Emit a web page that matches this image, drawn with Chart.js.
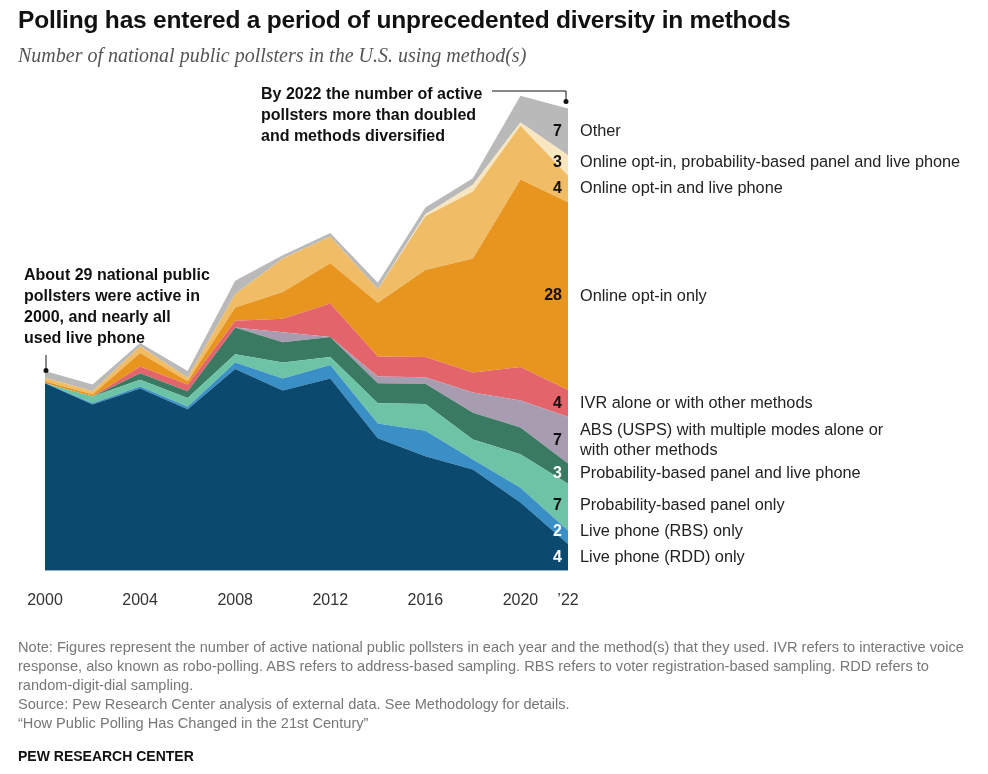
<!DOCTYPE html>
<html><head><meta charset="utf-8">
<script src="https://cdn.jsdelivr.net/npm/chart.js@4"></script>
<style>
body{margin:0;width:988px;height:774px;background:#fff;font-family:"Liberation Sans",Arial,sans-serif;position:relative;overflow:hidden}
#wrap{position:absolute;left:0;top:0;width:988px;height:774px}
.t{position:absolute;color:#111}
#title{left:18px;top:6px;font-size:24.5px;font-weight:bold;letter-spacing:-0.2px}
#sub{left:18px;top:44px;font-family:"Liberation Serif",Georgia,serif;font-style:italic;font-size:20px;color:#555}
.ann{font-weight:bold;font-size:16px;line-height:21px;color:#111}
#note{left:18px;top:638px;font-size:14.6px;color:#777;line-height:19px;width:960px}
#pew{left:18px;top:748px;font-size:14px;font-weight:bold;color:#111}
</style></head><body>
<div id="wrap"><canvas id="c" width="988" height="774"></canvas></div>
<div class="t" id="title">Polling has entered a period of unprecedented diversity in methods</div>
<div class="t" id="sub">Number of national public pollsters in the U.S. using method(s)</div>
<div class="t ann" style="left:24px;top:264px">About 29 national public<br>pollsters were active in<br>2000, and nearly all<br>used live phone</div>
<div class="t ann" style="left:261px;top:83px">By 2022 the number of active<br>pollsters more than doubled<br>and methods diversified</div>
<div class="t" id="note">Note: Figures represent the number of active national public pollsters in each year and the method(s) that they used. IVR refers to interactive voice response, also known as robo-polling. ABS refers to address-based sampling. RBS refers to voter registration-based sampling. RDD refers to random-digit-dial sampling.<br>Source: Pew Research Center analysis of external data. See Methodology for details.<br>“How Public Polling Has Changed in the 21st Century”</div>
<div class="t" id="pew">PEW RESEARCH CENTER</div>
<script>
const years = [2000,2002,2004,2006,2008,2010,2012,2014,2016,2018,2020,2022];
const rdd        = [28,24.8,27.2,24.1,30.1,26.9,28.7,19.8,17.1,15.1,10.2,4];
const rbs        = [0,0.2,0.3,0.4,1,1.8,2,2.2,3.8,1.5,2.2,2];
const probOnly   = [0,1,1,1.3,1.2,2.4,1.2,3,4,3,5,7];
const probLive   = [0,0,1,1,4,3,3,3,3,4,4,3];
const abs        = [0,0,0,0,0,1.5,0,1,1,3,4,7];
const ivr        = [0,0,1,1,1,2,5,3,3,3,5,4];
const onlineOnly = [0.3,0.3,2,0.5,2,4,6,8,13,17,28,28];
const onlineLive = [0.5,0.5,1,0.5,2,5,4,2,8,10,8,4];
const onlineProb = [0,0,0,0,0,0,0,0,0.3,1,0.5,3];
const other      = [1,1,0.5,1,2,0.5,0.5,1,1,1,4,7];
const labels22 = [
 ["Live phone (RDD) only"],["Live phone (RBS) only"],["Probability-based panel only"],
 ["Probability-based panel and live phone"],["ABS (USPS) with multiple modes alone or","with other methods"],
 ["IVR alone or with other methods"],["Online opt-in only"],["Online opt-in and live phone"],
 ["Online opt-in, probability-based panel and live phone"],["Other"]];
const series=[rdd,rbs,probOnly,probLive,abs,ivr,onlineOnly,onlineLive,onlineProb,other];
const shown=[4,2,7,3,7,4,28,4,3,7];
const colors=["#0b4a6e","#3a8fc7","#6cc3a5","#3b7a62","#a89cb0","#e3646a","#e8951f","#f0bd66","#f8e6c0","#b9b9b9"];

const labelPlugin={id:'lbl',afterDraw(ch){
 const c=ch.ctx,y=ch.scales.y,x=ch.scales.x;
 let cum=0,prev=9999,prevLines=1;const xr=x.getPixelForValue(years.length-1);
 c.save();c.textBaseline='middle';
 series.forEach((s,i)=>{
  const v=s[s.length-1];let mid=y.getPixelForValue(cum+v/2);cum+=v;
  const lines=labels22[i];
  const gap=(lines.length>1||prevLines>1)?32:26;
  let py=i==0?mid:Math.min(mid,prev-gap);
  c.font='bold 16px "Liberation Sans",Arial';c.textAlign='right';
  c.fillStyle=(i==0||i==1||i==3)?'#fff':'#111';
  c.fillText(String(shown[i]),xr-6,py);
  c.font='16.3px "Liberation Sans",Arial';c.textAlign='left';c.fillStyle='#222';
  lines.forEach((l,k)=>c.fillText(l,xr+12,py-(lines.length-1)*10+k*20));
  prev=py;prevLines=lines.length;
 });
 c.strokeStyle='#111';c.fillStyle='#111';c.lineWidth=1;
 const x0=x.getPixelForValue(0)+1,yt0=y.getPixelForValue(29.3);
 c.beginPath();c.moveTo(x0,yt0-4);c.lineTo(x0,355);c.stroke();
 c.beginPath();c.arc(x0,yt0-4,2.5,0,7);c.fill();
 const yt=y.getPixelForValue(69)-7;
 c.beginPath();c.moveTo(492,91);c.lineTo(xr-2,91);c.lineTo(xr-2,yt);c.stroke();
 c.beginPath();c.arc(xr-2,yt,2.5,0,7);c.fill();
 c.restore();
}};

new Chart(document.getElementById('c'),{
 type:'line',
 data:{labels:years,datasets:series.map((s,i)=>({data:s,backgroundColor:colors[i],borderWidth:0,pointRadius:0,fill:i==0?'origin':'-1',tension:0}))},
 options:{responsive:false,animation:false,
  layout:{padding:{left:45,right:420,top:85,bottom:152}},
  plugins:{legend:{display:false},tooltip:{enabled:false}},
  scales:{
   x:{offset:false,grid:{display:false},border:{display:false},
      ticks:{padding:12,color:'#333',font:{size:16,family:'"Liberation Sans",Arial'},autoSkip:false,maxRotation:0,
       callback:(v,i)=>{const yr=years[i];return yr==2022?"’22":(yr%4==0?String(yr):'');}}},
   y:{stacked:true,display:false,min:0,max:72.5}
  }},
 plugins:[labelPlugin]
});
</script>
</body></html>
